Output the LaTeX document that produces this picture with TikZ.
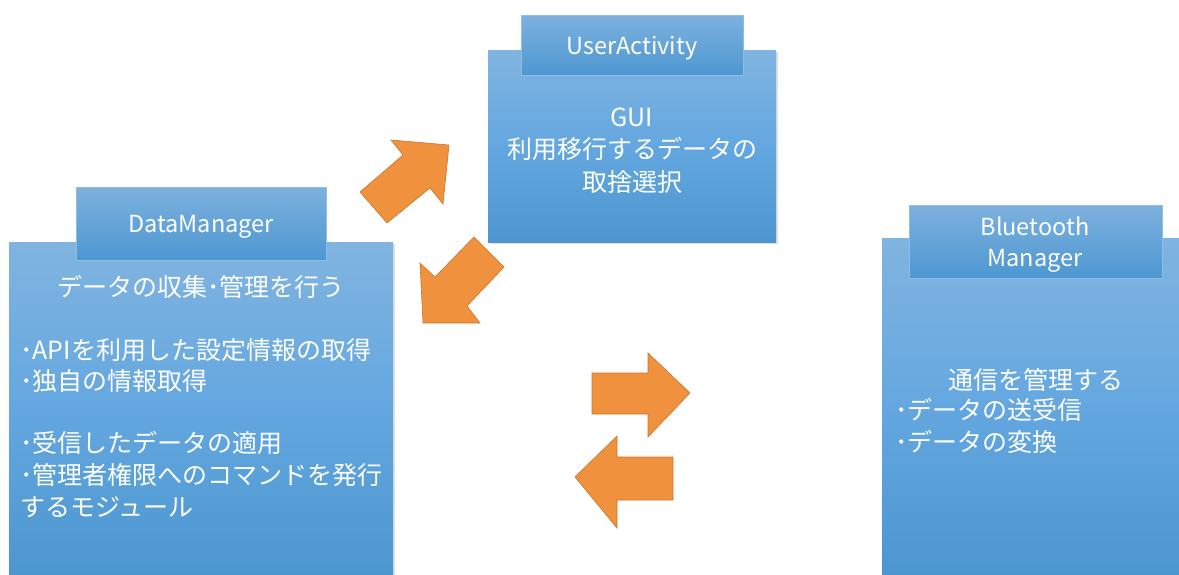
\documentclass[tikz,border=0pt]{standalone}
\usepackage{fontspec}
\setmainfont{Noto Sans CJK JP}
\usetikzlibrary{shadows}
\definecolor{bTop}{HTML}{80B4E0}
\definecolor{bMid}{HTML}{64A7E0}
\definecolor{bBot}{HTML}{4C96CF}
\definecolor{tTop}{HTML}{7DB1DE}
\definecolor{tBot}{HTML}{4D97D1}
\definecolor{arFill}{HTML}{F0923D}
\definecolor{arDraw}{HTML}{C97530}
\begin{document}
\begin{tikzpicture}[x=1pt,y=-1pt,
  mainbox/.style={anchor=north west, inner sep=0pt, top color=bTop, bottom color=bBot, middle color=bMid,
    drop shadow={opacity=0.25, shadow xshift=1.5pt, shadow yshift=-2pt}},
  tabbox/.style={anchor=north west, inner sep=0pt, top color=tTop, bottom color=tBot, draw=tTop!85!white, line width=0.5pt},
  txt/.style={text=white, inner sep=0pt, font=\fontsize{25}{31}\selectfont},
  ttl/.style={text=white, inner sep=0pt, font=\fontsize{23.5}{31}\selectfont, align=center},
  arrowshape/.style={fill=arFill, draw=arDraw, line width=0.6pt, line join=miter}]
\useasboundingbox (0,0) rectangle (1179,575);

% UserActivity
\node[mainbox, minimum width=288pt, minimum height=192pt] (uaMain) at (488,50) {};
\node[tabbox, minimum width=222pt, minimum height=60pt] (uaTab) at (521,15) {};
\node[ttl] (uaTitle) at (632,48) {UserActivity};
\node[txt] (uaL1) at (632,117) {GUI};
\node[txt] (uaL2) at (632,149) {利用移行するデータの};
\node[txt] (uaL3) at (632,182) {取捨選択};

% DataManager
\node[mainbox, minimum width=384pt, minimum height=333pt] (dmMain) at (9,242) {};
\node[tabbox, minimum width=250pt, minimum height=73pt] (dmTab) at (76,187) {};
\node[ttl] (dmTitle) at (201,227) {DataManager};
\node[txt] (dmL0) at (201,287) {データの収集･管理を行う};
\node[txt, anchor=west] (dmL1) at (20,350) {･APIを利用した設定情報の取得};
\node[txt, anchor=west] (dmL2) at (20,381) {･独自の情報取得};
\node[txt, anchor=west] (dmL3) at (20,443) {･受信したデータの適用};
\node[txt, anchor=west] (dmL4) at (20,475) {･管理者権限へのコマンドを発行};
\node[txt, anchor=west] (dmL5) at (20,507) {するモジュール};

% Bluetooth Manager
\node[mainbox, minimum width=297pt, minimum height=337pt] (btMain) at (882,238) {};
\node[tabbox, minimum width=253pt, minimum height=73pt] (btTab) at (909,205) {};
\node[ttl] (btTitle) at (1035,245) {Bluetooth\\Manager};
\node[txt] (btL0) at (1036,380) {通信を管理する};
\node[txt, anchor=west] (btL1) at (895,410) {･データの送受信};
\node[txt, anchor=west] (btL2) at (895,442) {･データの変換};

% Arrows
\draw[arrowshape] (360,192) -- (403,155) -- (391,140) -- (449,145) -- (443,204) -- (430,188) -- (387,223) -- cycle;
\draw[arrowshape] (474,237) -- (504,267) -- (467,306) -- (480,323) -- (423,323) -- (420,263) -- (435,277) -- cycle;
\draw[arrowshape] (592,373) -- (648,373) -- (648,353) -- (690,393) -- (648,437) -- (648,414) -- (592,414) -- cycle;
\draw[arrowshape] (673,457) -- (617,457) -- (617,436) -- (575,477) -- (617,528) -- (617,500) -- (673,500) -- cycle;
\end{tikzpicture}
\end{document}
